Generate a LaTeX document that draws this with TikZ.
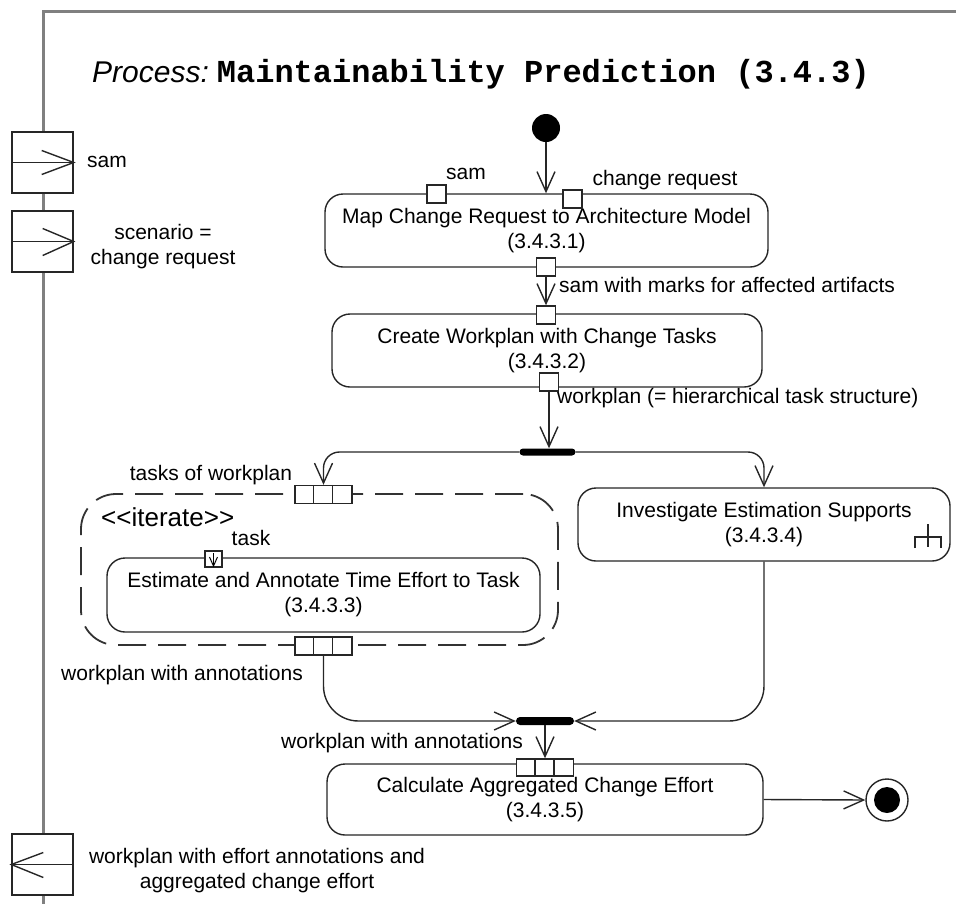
\documentclass[tikz,border=0pt]{standalone}
\usepackage{fontspec}
\setmainfont{Liberation Sans}
\setmonofont{Liberation Mono}
\usetikzlibrary{arrows.meta,calc}

\begin{document}
\begin{tikzpicture}[x=1pt,y=-1pt,
  ink/.style={line width=1.4pt,draw=black!85},
  action/.style={ink,rounded corners=18pt,fill=white,inner sep=0pt,align=center,
                 font=\fontsize{21}{25}\selectfont},
  pinbox/.style={ink,fill=white,inner sep=0pt,minimum width=19pt,minimum height=18pt},
  pingroup/.style={ink,fill=white,inner sep=0pt,minimum width=57pt,minimum height=18pt},
  parambox/.style={ink,fill=white,inner sep=0pt,minimum width=61pt,minimum height=61pt},
  bar/.style={fill=black,rounded corners=3.5pt,inner sep=0pt,minimum width=56pt,minimum height=7pt},
  region/.style={line width=1.8pt,draw=black!80,dash pattern=on 28pt off 12pt,
                 rounded corners=35pt,inner sep=0pt},
  flow/.style={ink,-{Straight Barb[length=20pt,width=18pt,line width=1.4pt]}},
  lbl/.style={inner sep=0pt,font=\fontsize{21}{25}\selectfont,align=center},
  framecol/.style={draw=black!50,line width=3pt}
]
\useasboundingbox (0,0) rectangle (956,903);

% activity frame (open to the right and bottom)
\draw[framecol] (43,910) -- (43,11) -- (970,11);

% title
\node[anchor=base west,inner sep=0pt] (title) at (92,82)
  {{\fontsize{30}{36}\selectfont\itshape Process:}\hspace{8pt}{\fontsize{32}{36}\selectfont\ttfamily\bfseries Maintainability Prediction (3.4.3)}};

% parameter nodes on the frame
\node[parambox] (p1) at (42.5,162.5) {};
\draw[ink] (p1.west) -- (p1.east);
\draw[ink] ($(p1.east)+(-32,-12)$) -- (p1.east) -- ($(p1.east)+(-32,12)$);
\node[lbl,anchor=west] (p1l) at (87,162) {sam};

\node[parambox] (p2) at (42.5,241.5) {};
\draw[ink] (p2.west) -- (p2.east);
\draw[ink] ($(p2.east)+(-31,-13)$) -- (p2.east) -- ($(p2.east)+(-31,14)$);
\node[lbl] (p2l) at (163,247) {scenario =\\change request};

\node[parambox] (p3) at (42.5,864.5) {};
\draw[ink] (p3.west) -- (p3.east);
\draw[ink] ($(p3.west)+(32,-12)$) -- (p3.west) -- ($(p3.west)+(32,13)$);
\node[lbl] (p3l) at (257,871) {workplan with effort annotations and\\aggregated change effort};

% initial node
\node[circle,fill=black,minimum size=28pt,inner sep=0pt] (init) at (546,128) {};

% action 3.4.3.1
\node[action,minimum width=443pt,minimum height=73pt] (a1) at (546.5,230.5)
  {Map Change Request to Architecture Model\\(3.4.3.1)};
\draw[flow] (init.south) -- (init.south |- a1.north);
\node[pinbox] (a1sam) at (436.5,194) {};
\node[lbl] (a1saml) at (466,174) {sam};
\node[pinbox] (a1cr) at (572.5,199) {};
\node[lbl] (a1crl) at (665,180) {change request};
\node[pinbox] (a1out) at (546,267) {};

% action 3.4.3.2
\node[action,minimum width=430pt,minimum height=73pt] (a2) at (547,350.5)
  {Create Workplan with Change Tasks\\(3.4.3.2)};
\node[pinbox] (a2in) at (546,315) {};
\draw[flow] (a1out.south) -- (a2in.north);
\node[lbl,anchor=west] (a1outl) at (559,285) {sam with marks for affected artifacts};
\node[pinbox] (a2out) at (549,382) {};
\node[lbl,anchor=west] (a2outl) at (557,398) {workplan (= hierarchical task structure)};

% fork
\node[bar] (fork) at (547.5,452) {};
\draw[flow] (a2out.south) -- (a2out.south |- fork.north);

% expansion region with iterate
\node[region,minimum width=477pt,minimum height=151pt] (exp) at (319.5,569.5) {};
\node[inner sep=0pt,anchor=west,font=\fontsize{26}{30}\selectfont] (iter) at (101,517) {<{}<iterate>{}>};
\node[pingroup] (expin) at (323.5,494.5) {};
\draw[ink] ($(expin.north west)+(19,0)$) -- ($(expin.south west)+(19,0)$)
           ($(expin.north west)+(38,0)$) -- ($(expin.south west)+(38,0)$);
\node[lbl] (expinl) at (211,475) {tasks of workplan};
\node[pingroup] (expout) at (323.5,646) {};
\draw[ink] ($(expout.north west)+(19,0)$) -- ($(expout.south west)+(19,0)$)
           ($(expout.north west)+(38,0)$) -- ($(expout.south west)+(38,0)$);
\node[lbl] (expoutl) at (182,675) {workplan with annotations};

% action 3.4.3.3
\node[action,minimum width=433pt,minimum height=74pt] (a3) at (323.5,595)
  {Estimate and Annotate Time Effort to Task\\(3.4.3.3)};
\node[ink,fill=white,inner sep=0pt,minimum width=17pt,minimum height=16pt] (a3in) at (213.5,559) {};
\draw[line width=1pt] (213.5,553) -- (213.5,566);
\draw[line width=1pt] (209.5,557) -- (213.5,566) -- (217.5,557);
\node[lbl] (a3inl) at (251,538) {task};

% action 3.4.3.4
\node[action,minimum width=372pt,minimum height=73pt] (a4) at (764,524.5)
  {Investigate Estimation Supports\\(3.4.3.4)};
\draw[ink] (928,524) -- (928,547);
\draw[ink] (915,548) -- (915,537) -- (941,537) -- (941,548);

\draw[flow,rounded corners=16pt] (fork.west) -| (expin.north);
\draw[flow,rounded corners=16pt] (fork.east) -| (a4.north);

% join
\node[bar,minimum width=58pt,minimum height=8pt,rounded corners=4pt] (join) at (545,721) {};
\draw[flow,rounded corners=35pt] (expout.south) |- (join.west);
\draw[flow,rounded corners=35pt] (a4.south) |- (join.east);

% action 3.4.3.5
\node[action,minimum width=436pt,minimum height=71pt] (a5) at (545,799.5)
  {Calculate Aggregated Change Effort\\(3.4.3.5)};
\node[pingroup,minimum height=17pt] (a5in) at (545,767.5) {};
\draw[ink] ($(a5in.north west)+(19,0)$) -- ($(a5in.south west)+(19,0)$)
           ($(a5in.north west)+(38,0)$) -- ($(a5in.south west)+(38,0)$);
\draw[flow] (join.south) -- (a5in.north);
\node[lbl] (a5inl) at (402,743) {workplan with annotations};

% final node
\node[circle,ink,fill=white,minimum size=42pt,inner sep=0pt] (fin) at (887,800) {};
\fill[black] (fin.center) circle (13pt);
\draw[flow] (a5.east) -- (fin.west);
\end{tikzpicture}
\end{document}
